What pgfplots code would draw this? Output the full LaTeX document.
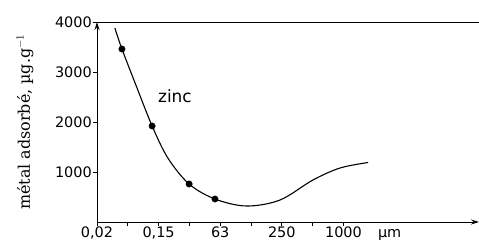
\documentclass[border=0pt]{standalone}
\usepackage{fontspec}
\setmainfont{DejaVu Serif}
\newfontfamily\sansf{DejaVu Sans}
\usepackage{pgfplots}
\pgfplotsset{compat=1.18}
\usetikzlibrary{arrows.meta}
\begin{document}
\begin{tikzpicture}
\path[use as bounding box] (-97bp,-26bp) rectangle (382bp,222bp);
\begin{axis}[
  scale only axis, width=382bp, height=200bp,
  xmin=0, xmax=12.4, ymin=0, ymax=4000,
  axis x line=bottom, axis y line=left,
  axis line style={line width=1pt, -{Stealth[length=8bp,width=5bp]}},
  clip=false,
  xtick={0,1,2,3,4,5,6,7,8},
  xticklabels={0{,}02,,0{,}15,,63,,250,,1000},
  ytick={1000,2000,3000,4000},
  yticklabels={1000,2000,3000,4000},
  x tick style={line width=0.8pt, black},
  y tick style={line width=0.8pt, black},
  major tick length=4bp,
  tick align=outside,
  ticklabel style={font=\sansf\fontsize{14.5}{15}\selectfont, inner sep=1bp},
]
\addplot[smooth, tension=0.55, line width=1.1pt, black, no marks] coordinates {
(0.58,3880)(0.81,3460)(1.30,2680)(1.79,1920)(2.30,1280)(2.99,760)(3.83,460)(4.85,320)(5.94,440)(7.01,840)(7.89,1080)(8.80,1190)
};
\addplot[only marks, mark=*, mark size=3.2bp, black] coordinates {
(0.81,3460)(1.79,1920)(2.99,760)(3.83,460)
};
\node[font=\sansf\fontsize{17}{18}\selectfont] at (axis cs:2.53,2520) {zinc};
\node[font=\sansf\fontsize{14.5}{15}\selectfont, anchor=north, inner sep=1bp] at ([yshift=-4bp]axis cs:9.5,0) {\vphantom{0}µm};
\draw[line width=1pt] (rel axis cs:0,1) -- (rel axis cs:1,1);
\node[rotate=90, font=\fontsize{16}{17}\selectfont] at ([xshift=-72bp]rel axis cs:0,0.5) {métal adsorbé, µg.g$^{-1}$};
\end{axis}
\end{tikzpicture}
\end{document}
